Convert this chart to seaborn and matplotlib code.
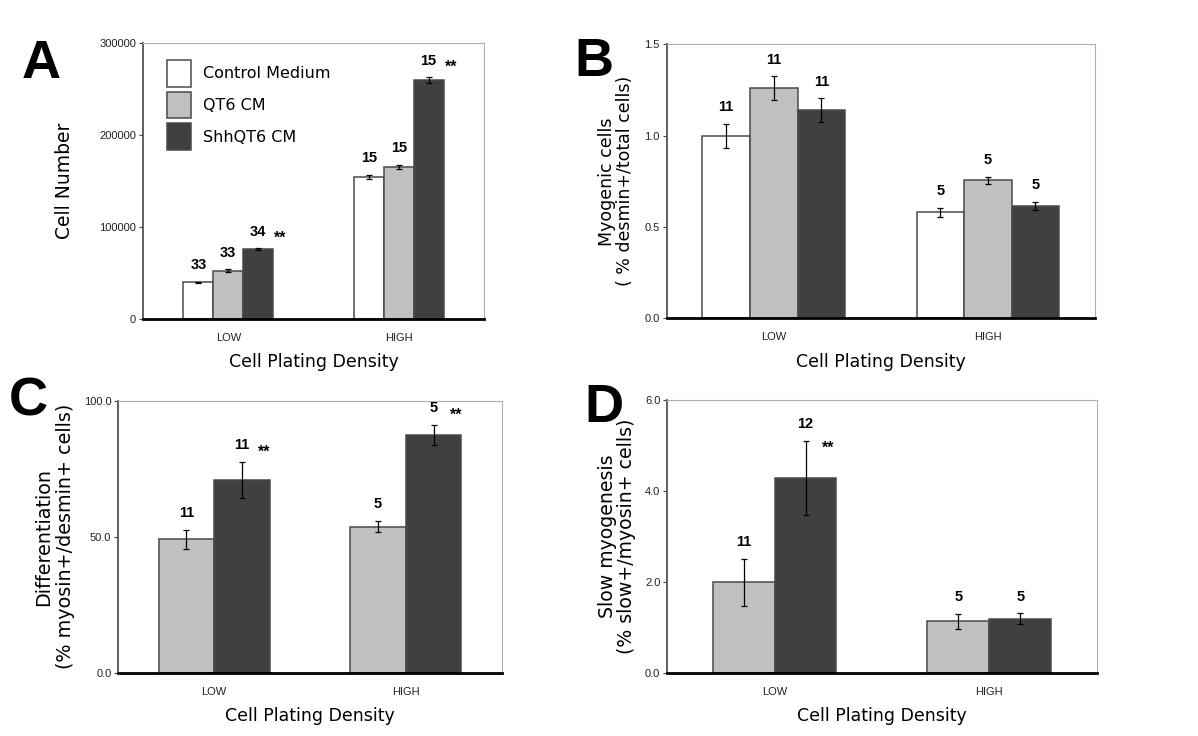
''' Four-panel grouped bar chart: effect of conditioned media on myogenic cells '''
import numpy as np
import pandas as pd
import seaborn as sns
import matplotlib.pyplot as plt

# ---- data ----
density = ["LOW", "HIGH"]
media = ["Control Medium", "QT6 CM", "ShhQT6 CM"]
colors = {"Control Medium": "#ffffff", "QT6 CM": "#c0c0c0", "ShhQT6 CM": "#404040"}

# A: cell number (rows = density, cols = medium)
a_mean = [[40000, 52500, 76000], [154500, 165000, 259500]]
a_err = [[600, 1500, 900], [2500, 2500, 3000]]
a_n = [[33, 33, 34], [15, 15, 15]]
a_star = [[False, False, True], [False, False, True]]

# B: myogenic cells
b_mean = [[1.00, 1.26, 1.14], [0.58, 0.755, 0.615]]
b_err = [[0.065, 0.065, 0.065], [0.025, 0.02, 0.022]]
b_n = [[11, 11, 11], [5, 5, 5]]
b_star = [[False, False, False], [False, False, False]]

# C: differentiation (QT6 CM, ShhQT6 CM only)
c_mean = [[49.0, 70.8], [53.7, 87.4]]
c_err = [[3.6, 6.6], [2.1, 3.6]]
c_n = [[11, 11], [5, 5]]
c_star = [[False, True], [False, True]]

# D: slow myogenesis
d_mean = [[1.99, 4.28], [1.13, 1.19]]
d_err = [[0.52, 0.82], [0.17, 0.12]]
d_n = [[11, 12], [5, 5]]
d_star = [[False, True], [False, False]]


def make_df(mean, err, n, star, levels):
    rows = []
    for i, dens in enumerate(density):
        for j, med in enumerate(levels):
            rows.append(dict(density=dens, medium=med, value=mean[i][j],
                             err=err[i][j], n=n[i][j], star=star[i][j]))
    return pd.DataFrame(rows)


sns.set_style("ticks")
plt.rcParams["font.family"] = ["DejaVu Sans"]
for key in ["text.color", "axes.labelcolor", "xtick.color", "ytick.color"]:
    plt.rcParams[key] = "black"

NARROW = ["Liberation Sans", "DejaVu Sans"]

fig = plt.figure(figsize=(11.98, 7.36), dpi=100)

panels = [
    # letter, data, levels, axes rect, width, ylim, yticks, fmt,
    # ylabel lines with x centre (axes frac), letter right/baseline (px),
    # star dy (pt), ylabel size
    ("A", make_df(a_mean, a_err, a_n, a_star, media), media,
     [0.1194, 0.5666, 0.2846, 0.375], 0.526, 300000, [0, 100000, 200000, 300000],
     "{:.0f}", [("Cell Number", -0.229)], (61, 78), -5, 13.5),
    ("B", make_df(b_mean, b_err, b_n, b_star, media), media,
     [0.5565, 0.5675, 0.3575, 0.3723], 0.666, 1.5, [0, 0.5, 1.0, 1.5],
     "{:.1f}", [("Myogenic cells", -0.139), ("( % desmin+/total cells)", -0.097)],
     (613, 76), -5, 12.5),
    ("C", make_df(c_mean, c_err, c_n, c_star, media[1:]), media[1:],
     [0.0988, 0.0860, 0.3200, 0.3696], 0.58, 100, [0, 50, 100],
     "{:.1f}", [("Differentiation", -0.196), ("(% myosin+/desmin+ cells)", -0.139)],
     (48, 416), -5, 13.8),
    ("D", make_df(d_mean, d_err, d_n, d_star, media[1:]), media[1:],
     [0.5570, 0.0860, 0.3584, 0.3705], 0.576, 6, [0, 2, 4, 6],
     "{:.1f}", [("Slow myogenesis", -0.140), ("(% slow+/myosin+ cells)", -0.094)],
     (623, 422), -17, 13.6),
]

for (letter, df, levels, rect, width, ymax, yticks, fmt, ylines,
     lpos, star_dy, ylab_size) in panels:
    ax = fig.add_axes(rect)
    sns.barplot(data=df, x="density", y="value", hue="medium",
                order=density, hue_order=levels,
                palette=[colors[m] for m in levels],
                width=width, errorbar=None, edgecolor="#4a4a4a",
                linewidth=1.1, saturation=1, legend=(letter == "A"), ax=ax)

    # error bars + n labels, one container per medium
    for j, (cont, med) in enumerate(zip(ax.containers, levels)):
        for i, bar in enumerate(cont):
            row = df[(df.density == density[i]) & (df.medium == med)].iloc[0]
            xc = bar.get_x() + bar.get_width() / 2
            top = bar.get_height()
            ax.errorbar(xc, top, yerr=row.err, color="black", lw=0.9,
                        capsize=2.5, capthick=0.9, zorder=5)
            ax.annotate(str(row.n), (xc, top + row.err), xytext=(0, 12),
                        textcoords="offset points", ha="center", va="center",
                        fontsize=10.5, fontweight="bold", family=NARROW)
            if row.star:
                ax.annotate("**", (xc, top + row.err), xytext=(16, 12 + star_dy),
                            textcoords="offset points", ha="center", va="center",
                            fontsize=11.5, fontweight="bold", family=NARROW)

    ax.set_xlim(-0.5, 1.5)
    ax.set_ylim(0, ymax)
    ax.set_yticks(yticks)
    ax.set_yticklabels([fmt.format(t) for t in yticks], fontsize=8,
                       family=NARROW, color="#222222")
    ax.tick_params(axis="y", length=3, width=0.8, pad=2, color="#444444")
    ax.tick_params(axis="x", length=0, pad=10, labelsize=8)
    for t in ax.get_xticklabels():
        t.set_family(NARROW)
        t.set_color("#222222")

    ax.set_xlabel("Cell Plating Density", fontsize=12.5)
    ax.xaxis.set_label_coords(0.5, -0.125)
    ax.xaxis.label.set_va("top")
    ax.set_ylabel("")
    for text, xfrac in ylines:
        ax.text(xfrac, 0.5, text, transform=ax.transAxes, rotation=90,
                ha="center", va="center", fontsize=ylab_size)

    for side in ["top", "right"]:
        ax.spines[side].set_visible(True)
        ax.spines[side].set_color("#b0b0b0")
        ax.spines[side].set_linewidth(0.8)
    ax.spines["left"].set_color("#555555")
    ax.spines["left"].set_linewidth(1.3)
    ax.spines["bottom"].set_color("black")
    ax.spines["bottom"].set_linewidth(2.0)

    if letter == "A":
        old = ax.get_legend()
        handles = old.legend_handles
        labels = [t.get_text() for t in old.get_texts()]
        old.remove()
        ax.legend(handles, labels, loc="upper left",
                  bbox_to_anchor=(0.070, 0.938), frameon=False,
                  borderpad=0, borderaxespad=0, handlelength=1.5,
                  handleheight=2.2, labelspacing=0.3, handletextpad=0.75,
                  prop={"size": 11.5})

    fig.text(lpos[0] / 1198, 1 - lpos[1] / 736, letter, fontsize=39,
             fontweight="bold", ha="right", va="baseline", color="black",
             family=NARROW)

fig.savefig("out.png", dpi=100)
